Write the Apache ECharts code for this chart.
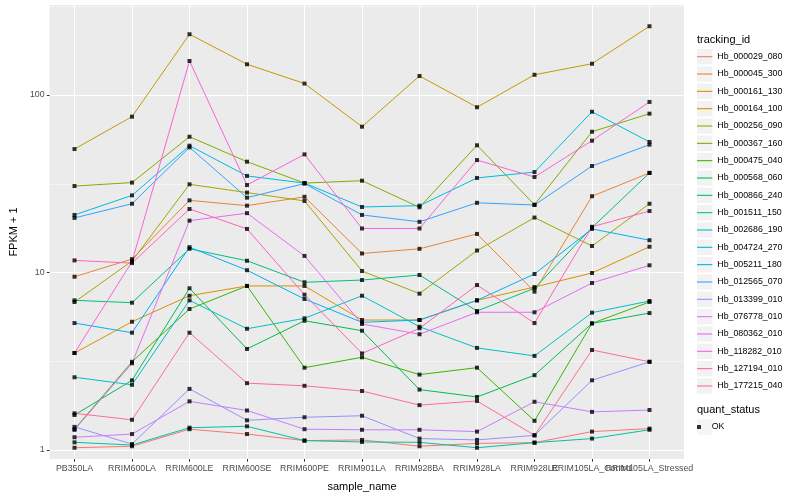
<!DOCTYPE html>
<html><head><meta charset="utf-8">
<script src="https://cdn.jsdelivr.net/npm/echarts@6/dist/echarts.min.js"></script>
<style>html,body{margin:0;padding:0;background:#fff}#c{width:800px;height:500px}</style>
</head><body><div id="c"></div>
<script>
// ---- data (FPKM + 1) ----
const categories = ['PB350LA','RRIM600LA','RRIM600LE','RRIM600SE','RRIM600PE','RRIM901LA','RRIM928BA','RRIM928LA','RRIM928LE','RRIM105LA_Control','RRIM105LA_Stressed'];
const trackingIds = ['Hb_000029_080','Hb_000045_300','Hb_000161_130','Hb_000164_100','Hb_000256_090','Hb_000367_160','Hb_000475_040','Hb_000568_060','Hb_000866_240','Hb_001511_150','Hb_002686_190','Hb_004724_270','Hb_005211_180','Hb_012565_070','Hb_013399_010','Hb_076778_010','Hb_080362_010','Hb_118282_010','Hb_127194_010','Hb_177215_040'];
const colors = ['#F8766D','#EA8331','#D89000','#C09B00','#A3A500','#7CAE00','#39B600','#00BB4E','#00BF7D','#00C1A3','#00BFC4','#00BAE0','#00B0F6','#35A2FF','#9590FF','#C77CFF','#E76BF3','#FA62DB','#FF62BC','#FF6C91'];

const Hb_000029_080 = [1.03, 1.05, 1.31, 1.23, 1.13, 1.14, 1.05, 1.09, 1.10, 1.27, 1.32];
const Hb_000045_300 = [9.47, 11.9, 25.5, 23.8, 26.7, 12.8, 13.6, 16.5, 7.8, 26.9, 36.4];
const Hb_000161_130 = [3.52, 5.28, 7.4, 8.4, 8.4, 5.4, 5.4, 6.97, 8.28, 9.94, 13.97];
const Hb_000164_100 = [49.6, 75.5, 220, 149, 116, 66.3, 128, 85.3, 130, 150, 244];
const Hb_000256_090 = [6.82, 11.6, 31.4, 28.2, 25.3, 10.2, 7.6, 13.3, 20.4, 14.1, 24.4];
const Hb_000367_160 = [30.7, 32.1, 58.2, 42.1, 31.9, 32.9, 23.3, 52.1, 24.1, 62.1, 78.5];
const Hb_000475_040 = [1.31, 3.14, 6.23, 8.4, 2.91, 3.33, 2.66, 2.91, 1.46, 5.17, 6.82];
const Hb_000568_060 = [1.575, 2.47, 8.15, 3.71, 5.35, 4.70, 2.19, 1.99, 2.64, 5.17, 5.91];
const Hb_000866_240 = [6.97, 6.76, 13.6, 11.65, 8.81, 9.07, 9.68, 6.07, 8.15, 17.9, 36.4];
const Hb_001511_150 = [1.105, 1.067, 1.336, 1.36, 1.13, 1.11, 1.105, 1.03, 1.10, 1.16, 1.30];
const Hb_002686_190 = [2.57, 2.33, 6.97, 4.82, 5.52, 7.4, 4.95, 3.76, 3.39, 5.94, 6.91];
const Hb_004724_270 = [21.1, 27.2, 51.8, 35.0, 31.9, 23.4, 23.8, 34.1, 36.8, 80.5, 54.4];
const Hb_005211_180 = [5.19, 4.58, 13.9, 10.3, 7.09, 5.24, 5.4, 6.97, 9.81, 17.6, 15.2];
const Hb_012565_070 = [20.3, 24.4, 50.7, 26.4, 31.7, 21.1, 19.3, 24.7, 24.0, 39.8, 52.5];
const Hb_013399_010 = [1.35, 1.08, 2.21, 1.47, 1.53, 1.56, 1.16, 1.14, 1.21, 2.47, 3.14];
const Hb_076778_010 = [1.18, 1.23, 1.88, 1.67, 1.31, 1.30, 1.30, 1.27, 1.87, 1.64, 1.68];
const Hb_080362_010 = [1.30, 3.08, 19.6, 21.6, 12.4, 5.13, 4.49, 5.97, 5.97, 8.73, 10.98];
const Hb_118282_010 = [3.52, 11.5, 155.5, 31.1, 46.3, 17.7, 17.7, 43.0, 34.5, 55.3, 91.4];
const Hb_127194_010 = [11.7, 11.3, 22.8, 17.6, 7.5, 3.5, 4.85, 8.5, 5.19, 18.1, 22.2];
const Hb_177215_040 = [1.61, 1.48, 4.58, 2.38, 2.30, 2.15, 1.79, 1.89, 1.21, 3.66, 3.14];

const seriesValues = [Hb_000029_080, Hb_000045_300, Hb_000161_130, Hb_000164_100, Hb_000256_090, Hb_000367_160, Hb_000475_040, Hb_000568_060, Hb_000866_240, Hb_001511_150, Hb_002686_190, Hb_004724_270, Hb_005211_180, Hb_012565_070, Hb_013399_010, Hb_076778_010, Hb_080362_010, Hb_118282_010, Hb_127194_010, Hb_177215_040];

const yMajorTicks = [1, 10, 100];
const yMinorTicks = [3.1623, 31.623, 316.23];
const yMin = 0.89, yMax = 321.4;
const quantStatus = ['OK'];

// ---- chart ----
const FONT = '"Liberation Sans", Arial, sans-serif';
const chart = echarts.init(document.getElementById('c'), null, {renderer: 'canvas'});

const lineSeries = trackingIds.map((id, k) => ({
  name: id, type: 'line', xAxisIndex: 1, yAxisIndex: 2,
  data: seriesValues[k], showSymbol: false, symbol: 'none',
  lineStyle: {color: colors[k], width: 1}, itemStyle: {color: colors[k]},
  z: 2, silent: true
}));
const pointData = [];
seriesValues.forEach(vals => vals.forEach((v, i) => pointData.push([categories[i], v])));
const pointSeries = {
  name: 'OK', type: 'scatter', xAxisIndex: 1, yAxisIndex: 2, data: pointData,
  symbol: 'rect', symbolSize: 4, itemStyle: {color: '#000'}, z: 3, silent: true
};

const legendCommon = {orient: 'vertical', padding: 0, selectedMode: false, left: 697};
const option = {
  animation: false,
  backgroundColor: '#fff',
  title: [
    {text: 'tracking_id', left: 697, top: 34.5, padding: 0, textStyle: {fontFamily: FONT, fontSize: 11, fontWeight: 'normal', color: '#000', lineHeight: 11}},
    {text: 'quant_status', left: 697, top: 404, padding: 0, textStyle: {fontFamily: FONT, fontSize: 11, fontWeight: 'normal', color: '#000', lineHeight: 11}}
  ],
  grid: [
    {left: 40, right: 116, top: 5, bottom: 41, show: true, backgroundColor: '#EBEBEB', borderWidth: 0},
    {left: 74.5, right: 150.5, top: 5, bottom: 41}
  ],
  xAxis: [
    {gridIndex: 0, type: 'value', min: 0, max: 1, show: false},
    {gridIndex: 1, type: 'category', data: categories, boundaryGap: false,
     axisLine: {show: false},
     axisTick: {show: true, interval: 0, length: 2.7, lineStyle: {color: '#333333', width: 1}},
     axisLabel: {interval: 0, hideOverlap: false, color: '#4D4D4D', fontSize: 8.8, fontFamily: FONT, margin: 5},
     splitLine: {show: true, interval: 0, lineStyle: {color: '#FFFFFF', width: 1.07}},
     name: 'sample_name', nameLocation: 'middle', nameGap: 22,
     nameTextStyle: {fontFamily: FONT, fontSize: 11, color: '#000'}}
  ],
  yAxis: [
    {gridIndex: 0, type: 'log', logBase: 10, min: yMin, max: yMax,
     axisLine: {show: false},
     axisTick: {show: true, length: 2.7, customValues: yMajorTicks, lineStyle: {color: '#333333', width: 1}},
     axisLabel: {customValues: yMajorTicks, color: '#4D4D4D', fontSize: 8.8, fontFamily: FONT, margin: 5,
                 formatter: v => String(Math.round(v))},
     splitLine: {show: true, lineStyle: {color: '#FFFFFF', width: 1.07}},
     name: 'FPKM + 1', nameLocation: 'middle', nameGap: 22, nameRotate: 90,
     nameTextStyle: {fontFamily: FONT, fontSize: 11, color: '#000'}},
    {gridIndex: 0, type: 'log', logBase: 10, min: yMin, max: yMax,
     axisLine: {show: false}, axisTick: {show: false, customValues: yMinorTicks},
     axisLabel: {show: false, customValues: yMinorTicks},
     splitLine: {show: true, lineStyle: {color: '#FFFFFF', width: 0.53}}},
    {gridIndex: 1, type: 'log', logBase: 10, min: yMin, max: yMax, show: false}
  ],
  legend: [
    Object.assign({}, legendCommon, {data: trackingIds, top: 49.05, icon: 'rect', itemWidth: 15.3, itemHeight: 15.3, itemGap: 2.03,
      itemStyle: {color: '#F2F2F2', borderWidth: 0}, textStyle: {color: 'rgba(0,0,0,0)', fontSize: 8.8, lineHeight: 10}}),
    Object.assign({}, legendCommon, {data: trackingIds, top: 48.03, icon: 'rect', itemWidth: 15.3, itemHeight: 1.1, itemGap: 0,
      itemStyle: {borderWidth: 0}, textStyle: {color: '#000', fontSize: 8.8, fontFamily: FONT, lineHeight: 17.33}}),
    Object.assign({}, legendCommon, {data: quantStatus, top: 427 - 7.65, icon: 'rect', itemWidth: 15.3, itemHeight: 15.3,
      itemStyle: {color: '#F2F2F2', borderWidth: 0}, textStyle: {color: 'rgba(0,0,0,0)', fontSize: 8.8, lineHeight: 10}}),
    Object.assign({}, legendCommon, {data: quantStatus, top: 427 - 8.67, icon: 'path://M0,0H1V1H0Z', itemWidth: 15.3, itemHeight: 4, itemGap: 0,
      symbolKeepAspect: true,
      itemStyle: {color: '#000', borderWidth: 0}, textStyle: {color: '#000', fontSize: 8.8, fontFamily: FONT, lineHeight: 17.33}})
  ],
  series: lineSeries.concat([pointSeries])
};
chart.setOption(option);
</script></body></html>
